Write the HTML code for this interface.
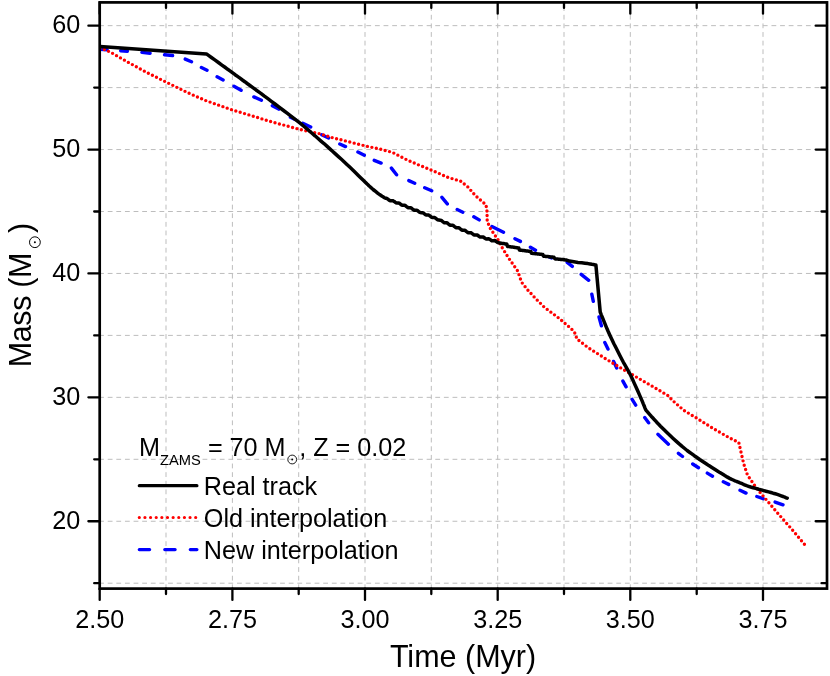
<!DOCTYPE html>
<html><head><meta charset="utf-8"><title>Mass vs Time</title>
<style>
html,body{margin:0;padding:0;background:#fff;}
svg{display:block;will-change:transform;transform:translateZ(0);}
text{font-family:"Liberation Sans",sans-serif;fill:#000;}
.tk{font-size:25.2px;}
.ax{font-size:30.5px;}
.sb{font-size:14.7px;}
</style></head><body>
<svg width="830" height="676" viewBox="0 0 830 676">
<rect x="0" y="0" width="830" height="676" fill="#ffffff"/>
<g stroke="#bdbdbd" stroke-width="1" fill="none">
<line x1="166.0" y1="2.4" x2="166.0" y2="588.6" stroke-dasharray="4.8 3.83" stroke-dashoffset="-3.77"/>
<line x1="232.4" y1="2.4" x2="232.4" y2="588.6" stroke-dasharray="4.8 3.83" stroke-dashoffset="-3.77"/>
<line x1="298.7" y1="2.4" x2="298.7" y2="588.6" stroke-dasharray="4.8 3.83" stroke-dashoffset="-3.77"/>
<line x1="365.0" y1="2.4" x2="365.0" y2="588.6" stroke-dasharray="4.8 3.83" stroke-dashoffset="-3.77"/>
<line x1="431.3" y1="2.4" x2="431.3" y2="588.6" stroke-dasharray="4.8 3.83" stroke-dashoffset="-3.77"/>
<line x1="497.7" y1="2.4" x2="497.7" y2="588.6" stroke-dasharray="4.8 3.83" stroke-dashoffset="-3.77"/>
<line x1="564.0" y1="2.4" x2="564.0" y2="588.6" stroke-dasharray="4.8 3.83" stroke-dashoffset="-3.77"/>
<line x1="630.3" y1="2.4" x2="630.3" y2="588.6" stroke-dasharray="4.8 3.83" stroke-dashoffset="-3.77"/>
<line x1="696.7" y1="2.4" x2="696.7" y2="588.6" stroke-dasharray="4.8 3.83" stroke-dashoffset="-3.77"/>
<line x1="763.0" y1="2.4" x2="763.0" y2="588.6" stroke-dasharray="4.8 3.83" stroke-dashoffset="-3.77"/>
<line x1="99.7" y1="583.20" x2="827.0" y2="583.20" stroke-dasharray="4.8 3.82" stroke-dashoffset="0.6"/>
<line x1="99.7" y1="521.25" x2="827.0" y2="521.25" stroke-dasharray="4.8 3.82" stroke-dashoffset="0.6"/>
<line x1="99.7" y1="459.30" x2="827.0" y2="459.30" stroke-dasharray="4.8 3.82" stroke-dashoffset="0.6"/>
<line x1="99.7" y1="397.35" x2="827.0" y2="397.35" stroke-dasharray="4.8 3.82" stroke-dashoffset="0.6"/>
<line x1="99.7" y1="335.40" x2="827.0" y2="335.40" stroke-dasharray="4.8 3.82" stroke-dashoffset="0.6"/>
<line x1="99.7" y1="273.45" x2="827.0" y2="273.45" stroke-dasharray="4.8 3.82" stroke-dashoffset="0.6"/>
<line x1="99.7" y1="211.50" x2="827.0" y2="211.50" stroke-dasharray="4.8 3.82" stroke-dashoffset="0.6"/>
<line x1="99.7" y1="149.55" x2="827.0" y2="149.55" stroke-dasharray="4.8 3.82" stroke-dashoffset="0.6"/>
<line x1="99.7" y1="87.60" x2="827.0" y2="87.60" stroke-dasharray="4.8 3.82" stroke-dashoffset="0.6"/>
<line x1="99.7" y1="25.65" x2="827.0" y2="25.65" stroke-dasharray="4.8 3.82" stroke-dashoffset="0.6"/>
</g>
<clipPath id="pc"><rect x="99.7" y="2.4" width="727.3" height="586.2"/></clipPath><g clip-path="url(#pc)">
<path d="M100.0 49.3L107.1 49.7M120.7 50.7L127.4 51.2M141.9 52.4L150.1 53.2M164.5 54.8L172.6 55.5M185.2 59.1L191.5 61.8M201.4 67.5L207.0 70.2M217.1 76.8L223.1 79.9M234.0 86.2L241.1 90.3M253.8 96.9L261.4 100.3M272.3 105.7L278.7 109.1M290.4 117.2L294.6 119.2M302.8 123.3L310.7 127.0M321.7 134.7L328.6 138.1M339.8 144.0L345.5 146.6M357.9 152.0L364.3 155.2M374.2 160.3L381.1 163.1M391.4 168.1L396.6 174.8M408.8 180.6L414.7 183.2M424.7 187.7L431.7 190.8M441.9 197.4L447.3 203.9M457.2 209.5L462.8 212.2M473.8 216.8L479.2 219.9M491.9 226.5L503.5 232.3M514.9 238.7L520.4 241.4M530.4 247.2L535.5 250.2M549.0 256.9L551.7 257.9M567.2 262.4L572.3 266.4M581.2 274.4L588.7 280.3M591.8 294.2L593.3 301.3M599.0 317.0L601.4 325.8M604.8 342.6L608.0 349.1M613.6 361.4L616.7 368.0M622.9 381.1L626.1 386.8M632.1 399.4L635.7 405.1M644.7 417.5L648.6 422.8M657.9 434.3L668.4 444.2M678.4 453.3L682.5 456.5M692.7 464.0L698.5 467.7M707.3 473.1L712.5 476.2M723.3 481.8L728.7 484.4M740.0 490.3L746.0 493.1M756.8 496.5L763.2 498.7M775.1 502.1L783.0 504.8" fill="none" stroke="#0000ff" stroke-width="3.4" stroke-linecap="round"/>
<polyline points="100.0,48.3 103.7,49.2 110.9,52.4 119.1,57.1 127.8,62.1 139.6,68.6 148.0,73.1 165.9,82.0 187.5,92.6 200.0,98.1 204.9,100.3 232.4,110.0 255.0,116.7 268.9,121.1 300.0,129.5 320.0,133.8 331.8,137.5 365.1,145.9 379.3,148.9 392.5,152.4 407.0,159.9 418.8,165.0 434.7,171.5 447.7,177.3 460.7,181.2 467.9,187.0 475.2,195.4 486.0,204.8 487.0,211.3 487.2,221.4 490.4,228.6 498.3,240.2 501.5,246.6 508.9,258.5 517.8,271.1 521.5,282.1 527.4,289.6 535.5,298.4 544.4,307.3 559.2,318.4 571.5,328.9 575.6,334.0 576.7,338.8 587.8,347.4 606.3,359.2 623.3,369.5 636.6,377.2 652.9,386.6 668.8,396.1 671.8,399.8 683.6,410.2 696.9,418.3 714.7,429.4 729.2,437.7 738.8,442.5 740.8,451.2 743.7,463.7 747.5,475.2 756.2,487.7 765.8,499.2 777.3,512.7 790.8,528.1 804.4,544.2" fill="none" stroke="#ff0000" stroke-width="3.4" stroke-linecap="round" stroke-linejoin="round" stroke-dasharray="0 4.5448"/>
<polyline points="100.0,46.4 206.4,53.9 208.5,55.4 211.4,57.5 214.8,59.9 218.4,62.5 221.9,65.1 225.0,67.3 227.7,69.3 230.3,71.1 232.7,72.9 235.1,74.7 237.5,76.4 240.0,78.2 242.4,80.0 244.8,81.7 247.2,83.5 249.6,85.2 252.2,87.1 255.0,89.2 258.0,91.4 261.2,93.7 264.4,96.2 267.9,98.7 271.4,101.3 275.0,104.0 278.8,106.9 282.9,110.0 287.1,113.2 291.3,116.3 295.2,119.4 298.8,122.2 301.9,124.7 304.7,127.0 307.3,129.2 309.8,131.3 312.3,133.5 315.0,135.8 317.8,138.3 320.7,140.8 323.7,143.3 326.6,145.9 329.6,148.6 332.5,151.2 335.4,153.9 338.4,156.6 341.4,159.3 344.3,162.0 347.2,164.7 350.0,167.3 352.8,170.0 355.6,172.7 358.3,175.4 360.9,177.9 363.3,180.2 365.3,182.2 366.9,183.8 368.2,185.0 369.2,186.0 370.1,186.8 371.0,187.6 372.0,188.5 373.1,189.5 374.4,190.5 375.6,191.4 376.7,192.3 377.6,193.1 378.3,193.6 379.0,194.1 379.9,194.7 381.0,195.5 382.2,196.3 383.4,197.0 384.5,197.7 385.6,198.3 386.0,198.3 386.8,198.3 387.5,198.8 388.2,199.4 389.0,200.0 389.8,200.6 390.5,200.8 391.2,200.8 392.0,200.8 392.8,200.7 393.5,201.0 394.2,201.6 395.0,202.1 395.8,202.7 396.5,202.9 397.2,202.9 398.0,202.9 398.8,202.9 399.5,203.3 400.2,203.9 401.0,204.5 401.8,205.1 402.5,205.3 403.2,205.3 404.0,205.3 404.8,205.3 405.5,205.7 406.2,206.3 407.0,206.9 407.8,207.5 408.5,207.7 409.2,207.8 410.0,207.8 410.8,207.8 411.5,208.2 412.2,208.8 413.0,209.4 413.8,210.0 414.5,210.2 415.2,210.2 416.0,210.2 416.8,210.2 417.5,210.6 418.2,211.2 419.0,211.8 419.8,212.4 420.5,212.6 421.2,212.7 422.0,212.7 422.8,212.7 423.5,213.1 424.2,213.7 425.0,214.3 425.8,214.9 426.5,215.1 427.2,215.1 428.0,215.1 428.8,215.1 429.5,215.6 430.2,216.2 431.0,216.8 431.8,217.4 432.5,217.6 433.2,217.6 434.0,217.6 434.8,217.6 435.5,218.1 436.2,218.7 437.0,219.3 437.8,219.9 438.5,220.1 439.2,220.1 440.0,220.2 440.8,220.2 441.5,220.6 442.2,221.2 443.0,221.8 443.8,222.5 444.5,222.7 445.2,222.7 446.0,222.7 446.8,222.7 447.5,223.2 448.2,223.8 449.0,224.4 449.8,225.0 450.5,225.2 451.2,225.2 452.0,225.3 452.8,225.3 453.5,225.7 454.2,226.3 455.0,226.9 455.8,227.5 456.5,227.7 457.2,227.8 458.0,227.8 458.8,227.8 459.5,228.2 460.2,228.8 461.0,229.4 461.8,230.0 462.5,230.2 463.2,230.2 464.0,230.2 464.8,230.3 465.5,230.7 466.2,231.3 467.0,231.9 467.8,232.5 468.5,232.7 469.2,232.7 470.0,232.7 470.8,232.7 471.5,233.0 472.2,233.6 473.0,234.2 473.8,234.8 474.5,235.0 475.2,234.9 476.0,234.9 476.8,234.9 477.5,235.2 478.2,235.8 479.0,236.3 479.8,236.9 480.5,237.0 481.2,237.0 482.0,236.9 482.8,236.9 483.5,237.2 484.2,237.8 485.0,238.3 485.8,238.8 486.5,239.0 487.2,238.9 488.0,238.8 488.8,238.8 489.5,239.1 490.2,239.6 491.0,240.2 491.8,240.7 492.5,240.8 493.2,240.8 494.0,240.7 494.8,240.6 495.5,241.0 496.2,241.5 497.0,242.0 497.8,242.6 498.5,242.7 499.2,242.7 500.0,243.1 500.8,243.2 501.5,243.3 502.2,243.4 503.0,243.5 503.8,243.6 504.5,243.7 505.2,243.9 506.0,244.0 506.8,244.1 507.5,246.4 508.2,246.5 509.0,246.6 509.8,246.7 510.5,246.8 511.2,246.9 512.0,247.0 512.8,247.1 513.5,247.2 514.2,247.3 515.0,247.4 515.8,247.6 516.5,247.7 517.2,247.8 518.0,247.9 518.8,248.0 519.5,250.1 520.2,250.2 521.0,250.2 521.8,250.3 522.5,250.4 523.2,250.5 524.0,250.6 524.8,250.7 525.5,250.8 526.2,250.9 527.0,251.0 527.8,251.1 528.5,251.2 529.2,251.3 530.0,251.4 530.8,251.5 531.5,253.3 532.2,253.3 533.0,253.4 533.8,253.5 534.5,253.6 535.2,253.7 536.0,253.7 536.8,253.8 537.5,253.9 538.2,254.0 539.0,254.1 539.8,254.2 540.5,254.3 541.2,254.3 542.0,254.4 542.8,254.5 543.5,256.2 544.2,256.3 545.0,256.3 545.8,256.4 546.5,256.5 547.2,256.6 548.0,256.6 548.8,256.7 549.5,256.8 550.2,256.9 551.0,257.0 551.8,257.0 552.5,257.1 553.2,257.2 554.0,257.3 554.8,258.8 555.5,258.9 556.2,259.0 557.0,259.0 557.8,259.1 558.5,259.2 559.2,259.3 560.0,259.3 560.8,259.4 561.5,259.5 562.2,259.5 563.0,259.6 563.8,259.7 564.5,259.8 565.2,259.9 566.0,259.9 569.3,261.1 573.9,261.8 578.0,262.4 581.8,262.8 585.0,263.2 587.9,263.6 590.2,264.0 592.0,264.3 593.4,264.5 594.4,264.7 595.2,264.9 595.9,265.0 600.2,312.0 601.2,314.6 602.7,318.1 604.4,322.3 606.2,326.8 608.1,331.3 610.0,335.5 611.9,339.5 613.9,343.7 616.0,347.8 618.0,351.8 620.0,355.7 621.8,359.2 623.4,362.3 624.9,364.9 626.3,367.4 627.7,369.9 629.2,372.5 630.7,375.5 632.4,379.1 634.2,383.1 636.1,387.2 637.9,391.3 639.6,395.1 641.0,398.4 642.2,401.1 643.2,403.6 644.1,405.7 644.8,407.6 645.4,409.0 645.9,410.2 646.8,411.2 648.1,412.7 649.6,414.4 651.2,416.2 652.9,418.0 654.5,419.8 656.0,421.4 657.4,423.0 658.9,424.5 660.5,426.2 662.3,428.0 664.4,430.1 666.9,432.5 669.8,435.3 672.9,438.2 676.1,441.1 679.2,443.9 682.1,446.4 684.7,448.5 687.1,450.5 689.5,452.2 691.9,453.9 694.3,455.7 696.9,457.5 699.7,459.5 702.7,461.5 705.8,463.5 708.9,465.6 711.9,467.5 714.7,469.3 717.4,471.0 719.9,472.6 722.4,474.1 724.8,475.6 727.0,476.9 729.2,478.1 731.2,479.1 733.2,480.0 735.0,480.8 736.7,481.5 738.4,482.1 740.0,482.8 741.5,483.4 742.8,484.0 744.0,484.6 745.2,485.1 746.7,485.7 748.5,486.3 750.7,487.0 753.2,487.7 755.8,488.4 758.6,489.2 761.3,489.9 763.8,490.6 766.2,491.3 768.6,491.9 770.9,492.5 773.1,493.2 775.3,493.8 777.3,494.4 779.3,495.1 781.2,495.8 783.1,496.5 784.8,497.2 786.2,497.8 787.2,498.2" fill="none" stroke="#000" stroke-width="3.5" stroke-linecap="round" stroke-linejoin="round"/>
</g>
<g stroke="#000" stroke-width="2.7" stroke-linecap="round" fill="none">
<rect x="99.7" y="2.4" width="727.3" height="586.2" stroke-linejoin="miter"/>
</g>
<g stroke="#000" stroke-width="2.3" stroke-linecap="round" fill="none">
<line x1="99.7" y1="588.6" x2="99.7" y2="599.9"/>
<line x1="99.7" y1="2.4" x2="99.7" y2="13.7"/>
<line x1="166.0" y1="588.6" x2="166.0" y2="594.1"/>
<line x1="166.0" y1="2.4" x2="166.0" y2="7.9"/>
<line x1="232.4" y1="588.6" x2="232.4" y2="599.9"/>
<line x1="232.4" y1="2.4" x2="232.4" y2="13.7"/>
<line x1="298.7" y1="588.6" x2="298.7" y2="594.1"/>
<line x1="298.7" y1="2.4" x2="298.7" y2="7.9"/>
<line x1="365.0" y1="588.6" x2="365.0" y2="599.9"/>
<line x1="365.0" y1="2.4" x2="365.0" y2="13.7"/>
<line x1="431.3" y1="588.6" x2="431.3" y2="594.1"/>
<line x1="431.3" y1="2.4" x2="431.3" y2="7.9"/>
<line x1="497.7" y1="588.6" x2="497.7" y2="599.9"/>
<line x1="497.7" y1="2.4" x2="497.7" y2="13.7"/>
<line x1="564.0" y1="588.6" x2="564.0" y2="594.1"/>
<line x1="564.0" y1="2.4" x2="564.0" y2="7.9"/>
<line x1="630.3" y1="588.6" x2="630.3" y2="599.9"/>
<line x1="630.3" y1="2.4" x2="630.3" y2="13.7"/>
<line x1="696.7" y1="588.6" x2="696.7" y2="594.1"/>
<line x1="696.7" y1="2.4" x2="696.7" y2="7.9"/>
<line x1="763.0" y1="588.6" x2="763.0" y2="599.9"/>
<line x1="763.0" y1="2.4" x2="763.0" y2="13.7"/>
<line x1="99.7" y1="583.20" x2="94.2" y2="583.20"/>
<line x1="827.0" y1="583.20" x2="821.5" y2="583.20"/>
<line x1="99.7" y1="521.25" x2="88.4" y2="521.25"/>
<line x1="827.0" y1="521.25" x2="815.7" y2="521.25"/>
<line x1="99.7" y1="459.30" x2="94.2" y2="459.30"/>
<line x1="827.0" y1="459.30" x2="821.5" y2="459.30"/>
<line x1="99.7" y1="397.35" x2="88.4" y2="397.35"/>
<line x1="827.0" y1="397.35" x2="815.7" y2="397.35"/>
<line x1="99.7" y1="335.40" x2="94.2" y2="335.40"/>
<line x1="827.0" y1="335.40" x2="821.5" y2="335.40"/>
<line x1="99.7" y1="273.45" x2="88.4" y2="273.45"/>
<line x1="827.0" y1="273.45" x2="815.7" y2="273.45"/>
<line x1="99.7" y1="211.50" x2="94.2" y2="211.50"/>
<line x1="827.0" y1="211.50" x2="821.5" y2="211.50"/>
<line x1="99.7" y1="149.55" x2="88.4" y2="149.55"/>
<line x1="827.0" y1="149.55" x2="815.7" y2="149.55"/>
<line x1="99.7" y1="87.60" x2="94.2" y2="87.60"/>
<line x1="827.0" y1="87.60" x2="821.5" y2="87.60"/>
<line x1="99.7" y1="25.65" x2="88.4" y2="25.65"/>
<line x1="827.0" y1="25.65" x2="815.7" y2="25.65"/>
</g>
<text class="tk" x="99.7" y="627.9" text-anchor="middle">2.50</text>
<text class="tk" x="232.4" y="627.9" text-anchor="middle">2.75</text>
<text class="tk" x="365.0" y="627.9" text-anchor="middle">3.00</text>
<text class="tk" x="497.7" y="627.9" text-anchor="middle">3.25</text>
<text class="tk" x="630.3" y="627.9" text-anchor="middle">3.50</text>
<text class="tk" x="763.0" y="627.9" text-anchor="middle">3.75</text>
<text class="tk" x="80.3" y="32.9" text-anchor="end">60</text>
<text class="tk" x="80.3" y="156.8" text-anchor="end">50</text>
<text class="tk" x="80.3" y="280.6" text-anchor="end">40</text>
<text class="tk" x="80.3" y="404.6" text-anchor="end">30</text>
<text class="tk" x="80.3" y="528.5" text-anchor="end">20</text>
<text class="ax" x="463" y="667" text-anchor="middle">Time (Myr)</text>
<g transform="translate(30.8,367.3) rotate(-90)"><text class="ax" x="0" y="0" letter-spacing="-0.35">Mass (M</text><circle cx="125.1" cy="4.1" r="5.4" fill="none" stroke="#000" stroke-width="1"/><circle cx="125.1" cy="4.1" r="1" fill="#000"/><text class="ax" x="134.4" y="0">)</text></g>
<text class="tk" x="139.1" y="456.1">M<tspan class="sb" dy="8.8">ZAMS</tspan><tspan dy="-8.8"> = 70 M</tspan></text>
<circle cx="292.2" cy="459.5" r="4.4" fill="none" stroke="#000" stroke-width="0.9"/><circle cx="292.2" cy="459.5" r="0.9" fill="#000"/>
<text class="tk" x="299.2" y="456.1">, Z = 0.02</text>
<line x1="139.3" y1="485.7" x2="196.9" y2="485.7" stroke="#000" stroke-width="3.2" stroke-linecap="round"/>
<line x1="139.3" y1="517.5" x2="196.9" y2="517.5" stroke="#ff0000" stroke-width="3.2" stroke-linecap="round" stroke-dasharray="0 5.64"/>
<line x1="139.3" y1="549.6" x2="196.9" y2="549.6" stroke="#0000ff" stroke-width="3.3" stroke-linecap="round" stroke-dasharray="10.3 15.2"/>
<text class="tk" x="203.8" y="495.0">Real track</text>
<text class="tk" x="203.8" y="527.0">Old interpolation</text>
<text class="tk" x="203.8" y="559.0">New interpolation</text>
</svg></body></html>
